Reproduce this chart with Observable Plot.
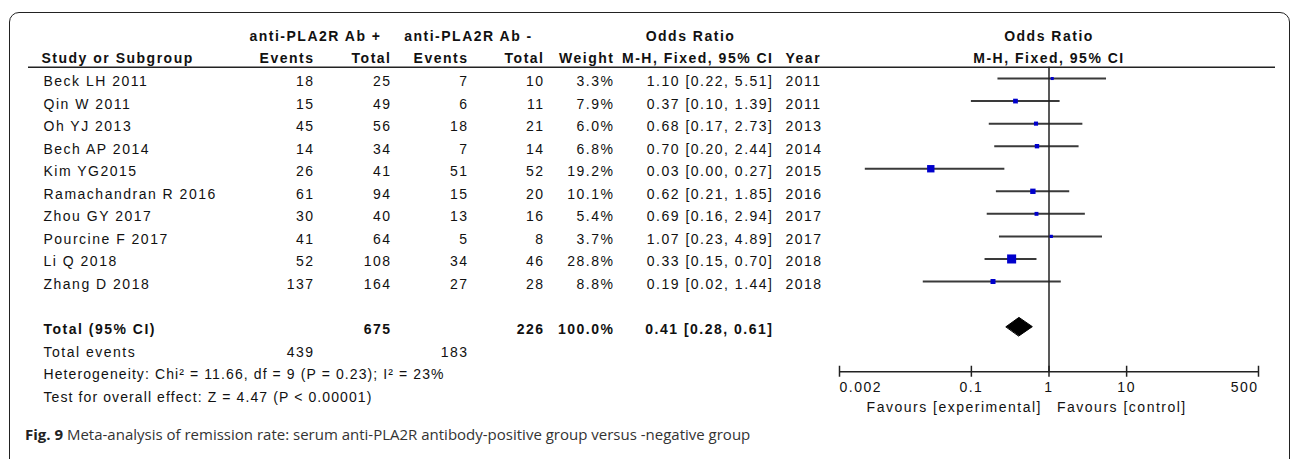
<!DOCTYPE html>
<html><head><meta charset="utf-8">
<script src="https://cdn.jsdelivr.net/npm/d3@7"></script>
<script src="https://cdn.jsdelivr.net/npm/@observablehq/plot@0.6"></script>
<style>
html,body{margin:0;padding:0;background:#fff;overflow:hidden;width:1290px;height:459px;position:relative}
#frame{position:absolute;left:9px;top:12px;width:1281px;height:480px;border:1.5px solid #222;border-radius:10px;box-sizing:border-box}
#chart{position:absolute;left:0;top:0}
#chart svg text{font-family:"Liberation Sans",Arimo,Arial,sans-serif;letter-spacing:1.5px}
#chart svg text.tight{letter-spacing:1.1px}
#caption{position:absolute;left:25px;top:424px;font-family:"Open Sans",sans-serif;font-size:15px;line-height:20px;color:#333;white-space:nowrap}
#caption b{font-weight:700;color:#222}
</style></head><body>
<div id="frame"></div>
<div id="chart"></div>
<div id="caption"><b>Fig. 9</b> Meta-analysis of remission rate: serum anti-PLA2R antibody-positive group versus -negative group</div>
<script>
// ---- data ----
const studies = ["Beck LH 2011","Qin W 2011","Oh YJ 2013","Bech AP 2014","Kim YG2015","Ramachandran R 2016","Zhou GY 2017","Pourcine F 2017","Li Q 2018","Zhang D 2018"];
const eventsPos = [18,15,45,14,26,61,30,41,52,137];
const totalPos  = [25,49,56,34,41,94,40,64,108,164];
const eventsNeg = [7,6,18,7,51,15,13,5,34,27];
const totalNeg  = [10,11,21,14,52,20,16,8,46,28];
const weights   = [3.3,7.9,6.0,6.8,19.2,10.1,5.4,3.7,28.8,8.8];
const oddsRatio = [1.10,0.37,0.68,0.70,0.03,0.62,0.69,1.07,0.33,0.19];
const ciLower   = [0.22,0.10,0.17,0.20,0.0043,0.21,0.16,0.23,0.15,0.024];
const ciUpper   = [5.51,1.39,2.73,2.44,0.27,1.85,2.94,4.89,0.70,1.44];
const years     = ["2011","2011","2013","2014","2015","2016","2017","2017","2018","2018"];
const pooledOR = 0.41, pooledLower = 0.28, pooledUpper = 0.61;
const chi2 = 11.66, dfHet = 9, pHet = "0.23", i2 = 23, zOverall = 4.47, pOverall = "< 0.00001";
const axisTicks = [0.002, 0.1, 1, 10, 500];
const axisTickLabels = ["0.002","0.1","1","10","500"];
const groupPos = "anti-PLA2R Ab +", groupNeg = "anti-PLA2R Ab -";

// ---- layout ----
const ML = 28, MR = 15;
const FONT = "Liberation Sans";
const ROW_H1 = 0, ROW_H2 = 1, ROW_TOTAL = 13, ROW_EVENTS = 14, ROW_HET = 15, ROW_TEST = 16;
const rowOf = i => 2 + i;
const idx = d3.range(studies.length);
const f2 = v => v.toFixed(2);
const ciText = (o,l,h) => `${f2(o)} [${f2(l)}, ${f2(h)}]`;
const TXT = {dy: 3, lineAnchor: "middle", fontFamily: FONT};

function cell(data, y, text, px, anchor, extra = {}) {
  return Plot.text(data, {y, text, frameAnchor: "left", dx: px - ML, textAnchor: anchor, ...TXT, ...extra});
}
function label(str, row, px, anchor, extra = {}) {
  return cell([str], () => row, d => d, px, anchor, extra);
}
const B = {fontWeight: "bold"};

const sumW = d3.sum(weights);
const diamond = [
  {x: pooledLower, y: ROW_TOTAL},
  {x: pooledOR, y: ROW_TOTAL - 0.41},
  {x: pooledUpper, y: ROW_TOTAL},
  {x: pooledOR, y: ROW_TOTAL + 0.41}
];
const hetText = `Heterogeneity: Chi² = ${chi2.toFixed(2)}, df = ${dfHet} (P = ${pHet}); I² = ${i2}%`;
const testText = `Test for overall effect: Z = ${zOverall.toFixed(2)} (P ${pOverall})`;

const chart = Plot.plot({
  width: 1290, height: 420,
  marginLeft: ML, marginRight: MR, marginTop: 0, marginBottom: 0,
  style: {fontFamily: FONT, fontSize: "14px", color: "#111", background: "transparent"},
  x: {type: "log", domain: [0.002, 500], range: [839, 1258], axis: null},
  y: {type: "linear", domain: [0, 16], range: [32.9, 393.8], axis: null},
  r: {type: "sqrt", domain: [0, 28.8], range: [0, 5.1]},
  marks: [
    // header
    label(groupPos, ROW_H1, 315, "middle", B),
    label(groupNeg, ROW_H1, 468, "middle", B),
    label("Odds Ratio", ROW_H1, 690, "middle", B),
    label("Study or Subgroup", ROW_H2, 41, "start", B),
    label("Events", ROW_H2, 314, "end", B),
    label("Total", ROW_H2, 391, "end", B),
    label("Events", ROW_H2, 468, "end", B),
    label("Total", ROW_H2, 544, "end", B),
    label("Weight", ROW_H2, 614, "end", B),
    label("M-H, Fixed, 95% CI", ROW_H2, 773, "end", B),
    label("Year", ROW_H2, 785, "start", B),
    Plot.text(["Odds Ratio"], {x: () => 1, y: () => ROW_H1, text: d => d, ...TXT, ...B}),
    Plot.text(["M-H, Fixed, 95% CI"], {x: () => 1, y: () => ROW_H2, text: d => d, ...TXT, ...B}),
    Plot.ruleY([1.5], {stroke: "#222", strokeWidth: 1.5}),

    // study rows
    cell(idx, rowOf, i => studies[i], 43, "start"),
    cell(idx, rowOf, i => String(eventsPos[i]), 314, "end"),
    cell(idx, rowOf, i => String(totalPos[i]), 391, "end"),
    cell(idx, rowOf, i => String(eventsNeg[i]), 468, "end"),
    cell(idx, rowOf, i => String(totalNeg[i]), 544, "end"),
    cell(idx, rowOf, i => weights[i].toFixed(1) + "%", 614, "end"),
    cell(idx, rowOf, i => ciText(oddsRatio[i], ciLower[i], ciUpper[i]), 773, "end"),
    cell(idx, rowOf, i => years[i], 785, "start"),

    // totals
    label("Total (95% CI)", ROW_TOTAL, 43, "start", B),
    label(String(d3.sum(totalPos)), ROW_TOTAL, 391, "end", B),
    label(String(d3.sum(totalNeg)), ROW_TOTAL, 544, "end", B),
    label(sumW.toFixed(1) + "%", ROW_TOTAL, 614, "end", B),
    label(ciText(pooledOR, pooledLower, pooledUpper), ROW_TOTAL, 773, "end", B),
    label("Total events", ROW_EVENTS, 43, "start"),
    label(String(d3.sum(eventsPos)), ROW_EVENTS, 314, "end"),
    label(String(d3.sum(eventsNeg)), ROW_EVENTS, 468, "end"),
    label(hetText, ROW_HET, 43, "start"),
    label(testText, ROW_TEST, 43, "start"),

    // forest plot
    Plot.ruleY(idx, {y: rowOf, x1: i => ciLower[i], x2: i => ciUpper[i], stroke: "#3a3a3a", strokeWidth: 2}),
    Plot.ruleX([1], {x: d => d, y1: () => 1.5, y2: () => ROW_HET, stroke: "#222", strokeWidth: 1.5}),
    Plot.dot(idx, {x: i => oddsRatio[i], y: rowOf, r: i => weights[i], symbol: "square", fill: "#0000cc", stroke: "none"}),
    Plot.line(diamond, {x: "x", y: "y", fill: "#000", stroke: "#000", strokeWidth: 1, curve: "linear-closed"}),

    // axis
    Plot.ruleY([ROW_HET], {y: d => d, x1: () => axisTicks[0], x2: () => axisTicks[axisTicks.length - 1], stroke: "#222", strokeWidth: 1.5}),
    Plot.ruleX(axisTicks, {x: d => d, y1: () => ROW_HET, y2: () => ROW_HET, insetTop: -5.5, insetBottom: -5.5, stroke: "#222", strokeWidth: 1.5}),
    Plot.text(axisTicks.slice(0, 1), {x: d => d, y: () => ROW_HET, dy: 16, text: d => axisTickLabels[axisTicks.indexOf(d)], textAnchor: "start", lineAnchor: "middle", fontFamily: FONT}),
    Plot.text(axisTicks.slice(1, -1), {x: d => d, y: () => ROW_HET, dy: 16, text: d => axisTickLabels[axisTicks.indexOf(d)], textAnchor: "middle", lineAnchor: "middle", fontFamily: FONT}),
    Plot.text(axisTicks.slice(-1), {x: d => d, y: () => ROW_HET, dy: 16, text: d => axisTickLabels[axisTicks.indexOf(d)], textAnchor: "end", lineAnchor: "middle", fontFamily: FONT}),
    Plot.text(["Favours [experimental]"], {x: () => 1, y: () => ROW_HET, dy: 36, dx: -7, text: d => d, textAnchor: "end", lineAnchor: "middle", fontFamily: FONT}),
    Plot.text(["Favours [control]"], {x: () => 1, y: () => ROW_HET, dy: 36, dx: 8, text: d => d, textAnchor: "start", lineAnchor: "middle", fontFamily: FONT})
  ]
});
d3.select(chart).selectAll("text")
  .filter(function() { return this.textContent === hetText || this.textContent === testText; })
  .classed("tight", true);
document.getElementById("chart").appendChild(chart);
</script>
</body></html>
